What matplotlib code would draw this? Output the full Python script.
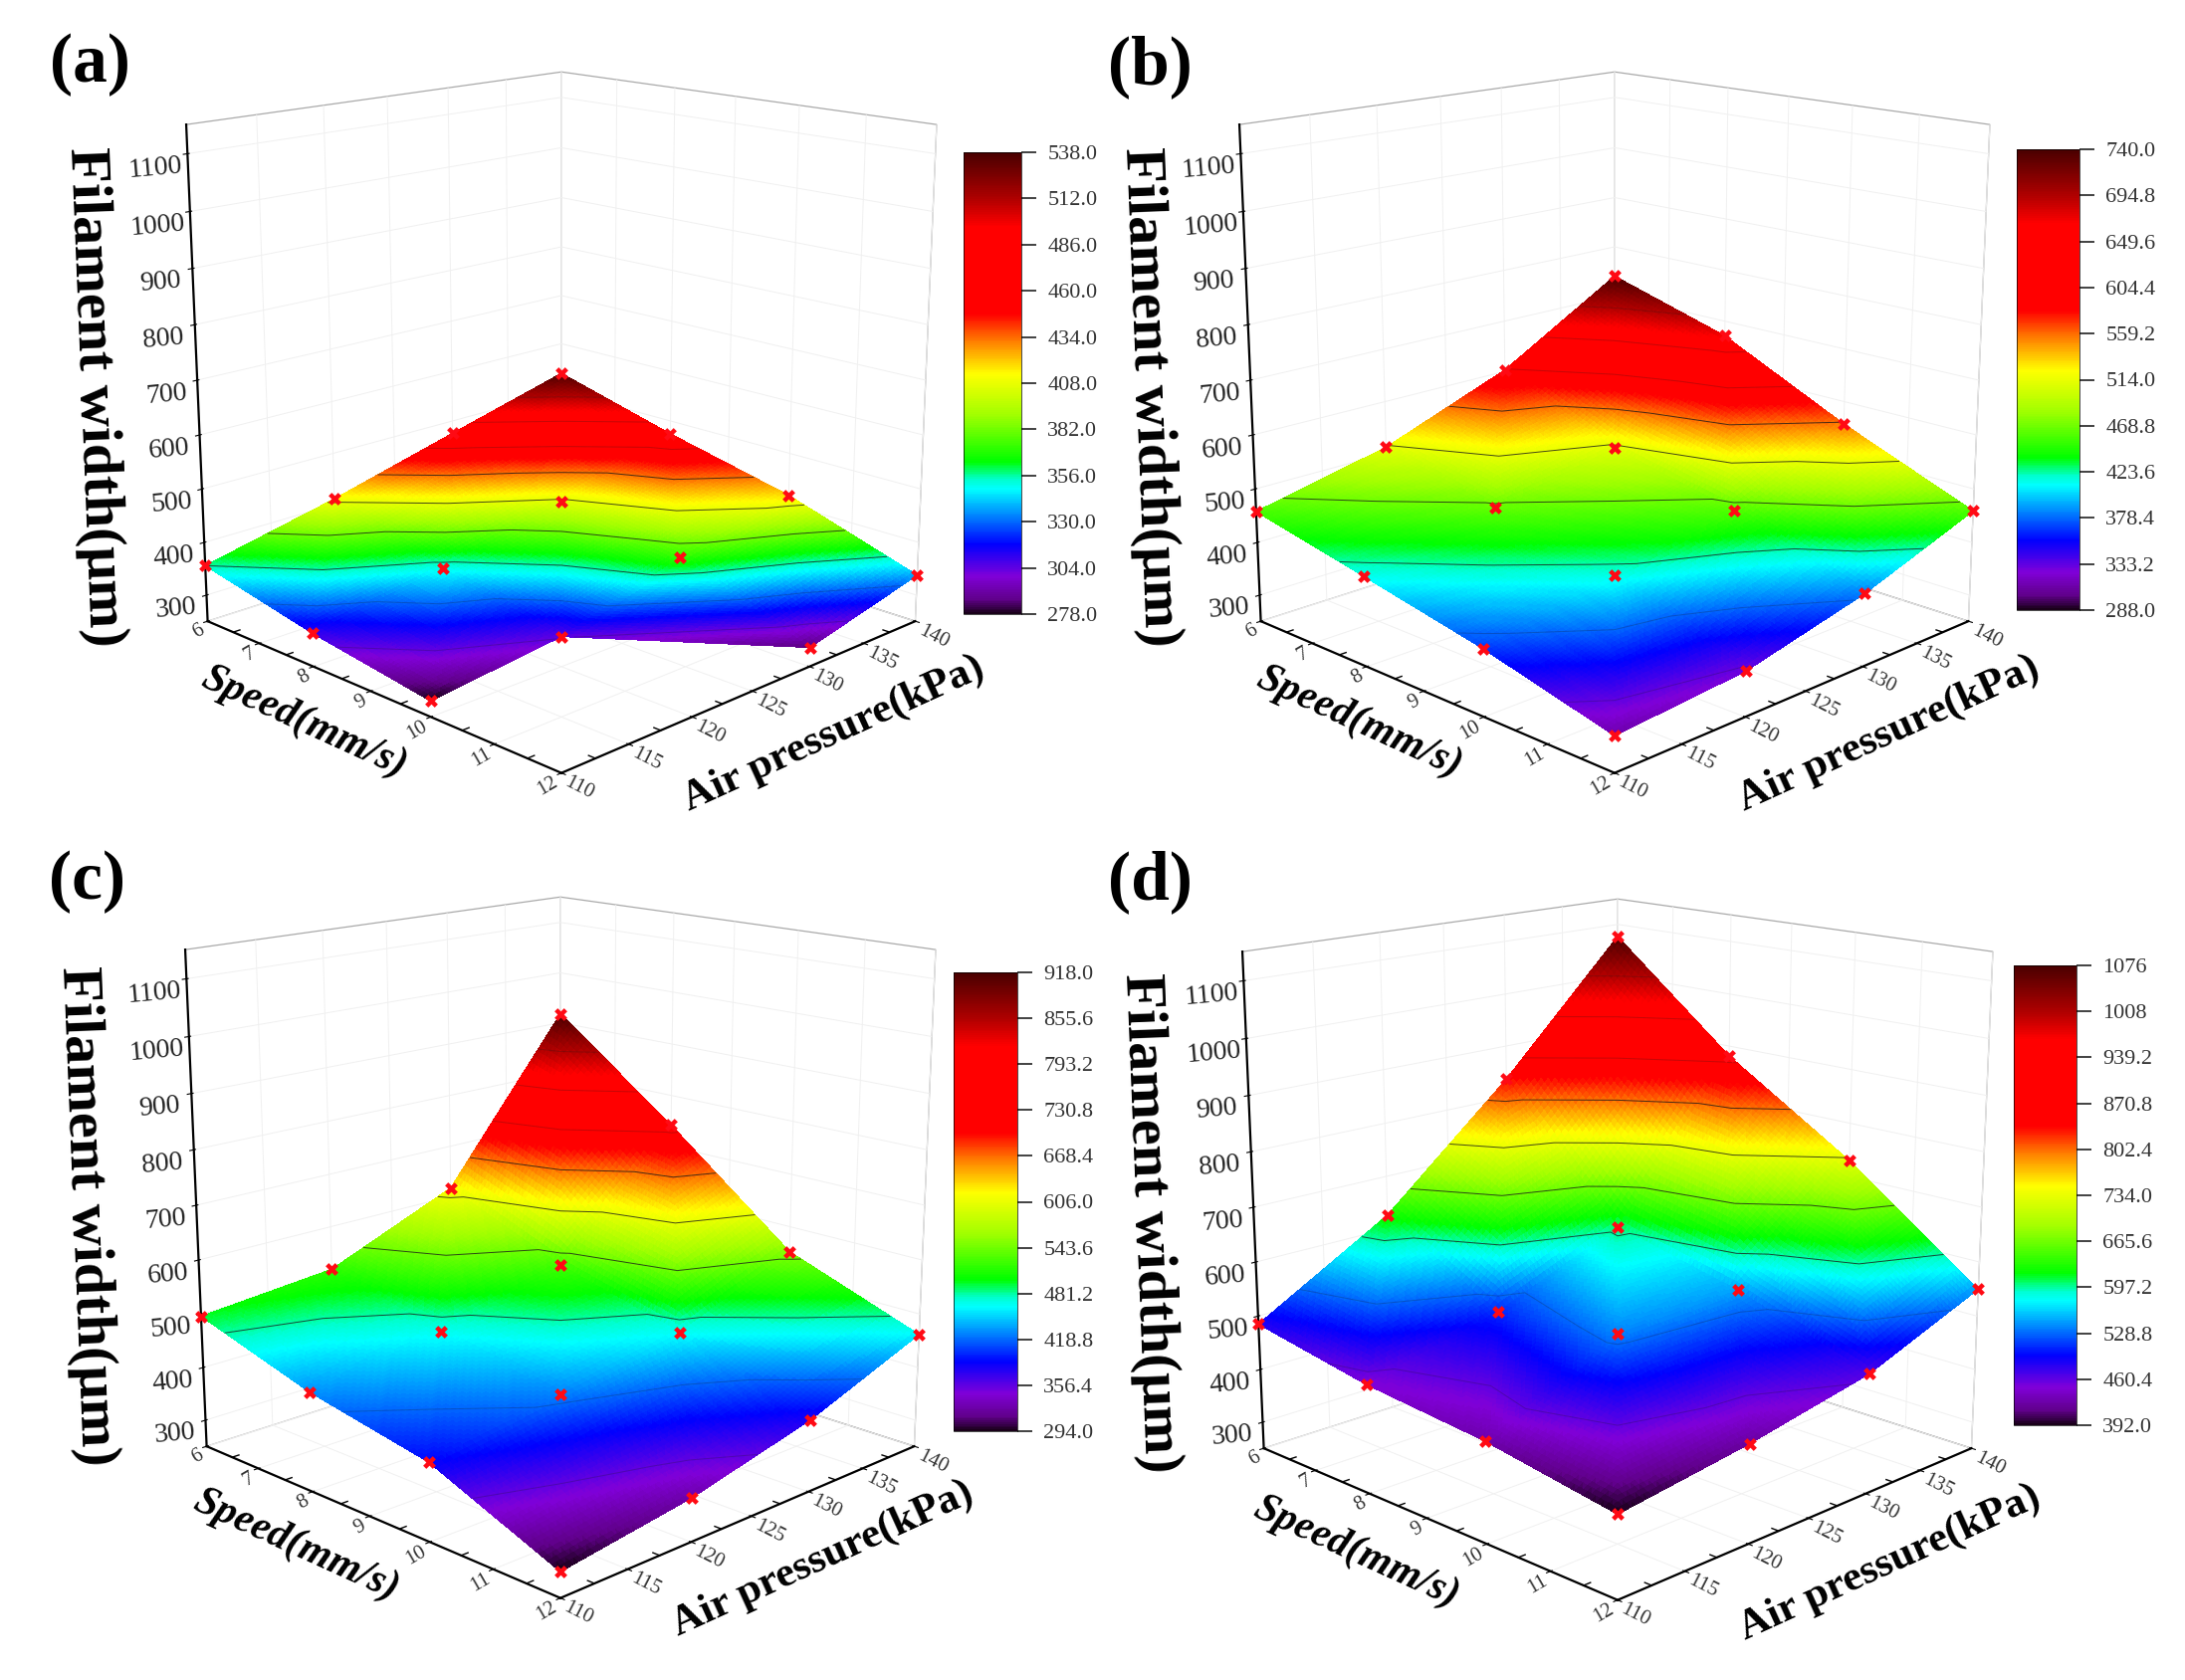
#Recreate the four filament width surfaces with colour bars
import numpy as np
import matplotlib
matplotlib.use('Agg')
import matplotlib.pyplot as plt
import matplotlib.tri as mtri
from matplotlib.colors import LinearSegmentedColormap, Normalize
from matplotlib.cm import ScalarMappable

##########################################
#Data (rows: speed, columns: pressure)
speed = [6, 8, 10, 12]
pressure = [110, 120, 130, 140]

width_a = [[356, 411, 475, 538],
	[311, 351, 406, 474],
	[278, 305, 371, 418],
	[np.nan, np.nan, 285, 338]]
width_b = [[458, 512, 603, 740],
	[414, 465, 510, 671],
	[369, 416, 460, 557],
	[312, 330, 383, 459]]
width_c = [[496, 518, 617, 918],
	[431, 467, 526, 742],
	[389, 426, 465, 552],
	[294, 327, 381, 462]]
width_d = [[485, 626, 836, 1076],
	[448, 508, 603, 881],
	[428, 538, 548, 730],
	[392, 424, 467, 550]]

ticks_a = [538.0, 512.0, 486.0, 460.0, 434.0, 408.0, 382.0, 356.0, 330.0, 304.0, 278.0]
ticks_b = [740.0, 694.8, 649.6, 604.4, 559.2, 514.0, 468.8, 423.6, 378.4, 333.2, 288.0]
ticks_c = [918.0, 855.6, 793.2, 730.8, 668.4, 606.0, 543.6, 481.2, 418.8, 356.4, 294.0]
ticks_d = [1076, 1008, 939.2, 870.8, 802.4, 734.0, 665.6, 597.2, 528.8, 460.4, 392.0]
labels_d = ['1076', '1008', '939.2', '870.8', '802.4', '734.0', '665.6', '597.2', '528.8', '460.4', '392.0']

speed_ticks = [6, 7, 8, 9, 10, 11, 12]
pressure_ticks = [110, 115, 120, 125, 130, 135, 140]
width_ticks = [300, 400, 500, 600, 700, 800, 900, 1000, 1100]

panel_names = ['(a)', '(b)', '(c)', '(d)']

##########################################
#Layout in pixels of the full picture
W, H = 2195, 1688
box_size = 870
box_centers = [(564, 382), (1622, 382), (563, 1211), (1625, 1213)]
cbar_boxes = [(968, 153, 1026, 617), (2026, 150, 2089, 613), (958, 977, 1022, 1438), (2023, 970, 2086, 1432)]
letter_pos = [(90, 65), (1155, 67), (87, 886), (1155, 886)]
zlabel_pos = [(95, 399), (1155, 399), (87, 1222), (1155, 1229)]
xlabel_pos = [(305, 726), (1365, 726), (297, 1553), (1362, 1560)]
ylabel_pos = [(837, 737), (1897, 737), (826, 1566), (1898, 1570)]

plt.rcParams['font.family'] = ['Liberation Serif', 'DejaVu Serif']
plt.rcParams['grid.color'] = '#f0f0f0'
plt.rcParams['grid.linewidth'] = 0.7

rainbow = LinearSegmentedColormap.from_list('origin_rainbow', [(0.0, '#1a001a'), (0.03, '#60008a'), (0.08, '#8000d8'),
	(0.15, '#0000ff'), (0.27, '#00ffff'), (0.29, '#00ffd0'), (0.33, '#00ff00'), (0.43, '#a0ff00'), (0.52, '#ffff00'),
	(0.59, '#ff8000'), (0.65, '#ff0000'), (0.84, '#ff0000'), (0.90, '#b00000'), (1.0, '#4a0000')])


def build_triangles(values):
	#Each grid cell gets two triangles, empty corners drop out
	xx, yy = np.meshgrid(speed, pressure, indexing='ij')
	ok = np.isfinite(values)
	idx = -np.ones(values.shape, dtype=int)
	idx[ok] = np.arange(ok.sum())
	triangles = []
	for i in range(3):
		for j in range(3):
			tris = [[(i, j), (i + 1, j), (i, j + 1)], [(i + 1, j), (i + 1, j + 1), (i, j + 1)]]
			if not ok[i + 1, j]:
				tris = [[(i, j), (i + 1, j + 1), (i, j + 1)]]
			for tri in tris:
				if all(ok[c] for c in tri):
					triangles.append([idx[c] for c in tri])
	return mtri.Triangulation(xx[ok].astype(float), yy[ok].astype(float), triangles), values[ok]


fig = plt.figure(figsize=[W / 100, H / 100], dpi=100)

all_widths = [width_a, width_b, width_c, width_d]
all_ticks = [ticks_a, ticks_b, ticks_c, ticks_d]

for pi in range(4):
	values = np.array(all_widths[pi], dtype=float)
	cticks = all_ticks[pi]
	norm = Normalize(cticks[-1], cticks[0])

	cx, cy = box_centers[pi]
	left = cx - 0.5135 * box_size
	bottom = (H - cy) - 0.5135 * box_size
	ax = fig.add_axes([left / W, bottom / H, box_size / W, box_size / H], projection='3d', computed_zorder=False)
	ax.set_facecolor('none')
	ax.set_proj_type('persp', focal_length=0.5)
	ax.view_init(elev=15.5, azim=-45)
	ax.set_box_aspect((1, 1, 1.0))

	ax.set_xlim(6, 12, view_margin=0)
	ax.set_ylim(110, 140, view_margin=0)
	ax.set_zlim(250, 1150, view_margin=0)

	#Surface, refined only so that the colours run smoothly
	triang, z = build_triangles(values)
	refiner = mtri.UniformTriRefiner(triang)
	fine_tri, fine_z = refiner.refine_field(z, triinterpolator=mtri.LinearTriInterpolator(triang, z), subdiv=5)
	ax.plot_trisurf(fine_tri, fine_z, cmap=rainbow, norm=norm, linewidth=0, antialiased=False, shade=False, zorder=3)

	#Contours: the middle levels are the strong ones
	levels = cticks[::-1]
	line_colors = [(0.1, 0.1, 0.1, 0.8) if 3 <= li <= 6 else (0.1, 0.1, 0.1, 0.25) for li in range(len(levels))]
	ax.tricontour(triang, z, levels=levels, colors=line_colors, linewidths=0.7, zorder=4)

	ax.scatter(triang.x, triang.y, z, c='#ff0a14', marker='X', s=85, linewidths=0, depthshade=False, zorder=5)

	#Axes
	ax.set_xticks(speed_ticks)
	ax.set_yticks(pressure_ticks)
	ax.set_zticks(width_ticks)
	ax.set_xticklabels([str(v) for v in speed_ticks], fontsize=15, rotation=30, color='#333333', ha='right')
	ax.set_yticklabels([str(v) for v in pressure_ticks], fontsize=15, rotation=-27, color='#333333', ha='left')
	ax.set_zticklabels([str(v) for v in width_ticks], fontsize=20, rotation=5, color='#222222')
	ax.tick_params(axis='x', pad=-8)
	ax.tick_params(axis='y', pad=-8)
	ax.tick_params(axis='z', pad=6)
	ax.zaxis.set_ticks_position('lower')

	for axis in [ax.xaxis, ax.yaxis, ax.zaxis]:
		axis.pane.set_facecolor('white')
		axis.pane.set_edgecolor('#555555')
		axis.pane.set_linewidth(0.9)
		axis.line.set_color('black')
		axis.line.set_linewidth(1.6)
		axis._axinfo['tick']['inward_factor'] = 0.12
		axis._axinfo['tick']['outward_factor'] = 0.05

	#Small ticks between the labelled ones
	for v in np.arange(6.5, 12, 1):
		ax.plot([v, v], [110, 110.5], [250, 250], color='black', lw=1, zorder=2)
	for v in np.arange(112.5, 140, 5):
		ax.plot([12, 11.9], [v, v], [250, 250], color='black', lw=1, zorder=2)

	#Colour bar
	x0, y0, x1, y1 = cbar_boxes[pi]
	cax = fig.add_axes([x0 / W, (H - y1) / H, (x1 - x0) / W, (y1 - y0) / H])
	cbar = fig.colorbar(ScalarMappable(norm=norm, cmap=rainbow), cax=cax, ticks=cticks)
	if pi == 3:
		cbar.set_ticklabels(labels_d)
	else:
		cbar.set_ticklabels(['%.1f' % v for v in cticks])
	cbar.ax.tick_params(labelsize=16, length=11, width=1.3, color='#333333', labelcolor='#333333', pad=8)
	cbar.outline.set_linewidth(0.5)

	#Titles placed as in the picture
	fig.text(letter_pos[pi][0] / W, 1 - letter_pos[pi][1] / H, panel_names[pi], fontsize=50, fontweight='bold', ha='center', va='center')
	fig.text(zlabel_pos[pi][0] / W, 1 - zlabel_pos[pi][1] / H, 'Filament width(\u03bcm)', fontsize=42, fontweight='bold', rotation=-87.7,
		ha='center', va='center', rotation_mode='anchor')
	fig.text(xlabel_pos[pi][0] / W, 1 - xlabel_pos[pi][1] / H, 'Speed(mm/s)', fontsize=30, fontweight='bold', style='italic', rotation=-24.5,
		ha='center', va='center', rotation_mode='anchor')
	fig.text(ylabel_pos[pi][0] / W, 1 - ylabel_pos[pi][1] / H, 'Air pressure(kPa)', fontsize=31, fontweight='bold', rotation=24.5,
		ha='center', va='center', rotation_mode='anchor')

plt.savefig('out.png', dpi=100)
